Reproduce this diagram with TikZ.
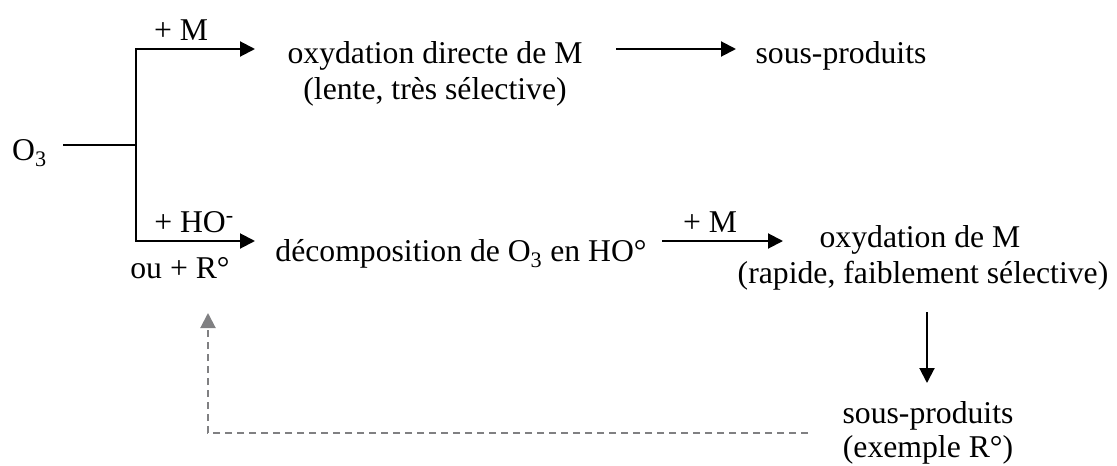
\documentclass[tikz,border=0pt]{standalone}
\usepackage{fontspec}
\setmainfont{Liberation Serif}
\usetikzlibrary{arrows.meta}
\definecolor{fbgray}{RGB}{128,128,130}
\begin{document}
\begin{tikzpicture}[x=1pt,y=-1pt,
  txt/.style={inner sep=0pt, anchor=base, font=\fontsize{31.7}{36}\selectfont},
  ln/.style={line width=2pt, line join=miter},
  arr/.style={line width=2pt, line join=miter, -{Triangle[length=15pt,width=15pt]}},
  fb/.style={line width=2pt, draw=fbgray, dash pattern=on 7pt off 5pt, -{Triangle[length=15pt,width=15pt]}}]
\useasboundingbox (0,0) rectangle (1117,466);

% text nodes
\node[txt, anchor=base west] (o3) at (12,160) {O\textsubscript{3}};
\node[txt] (lblM1) at (181,40) {+ M};
\node[txt] (odd1) at (435,63) {oxydation directe de M};
\node[txt] (odd2) at (435,99) {(lente, très sélective)};
\node[txt] (sp1) at (841,63) {sous-produits};
\node[txt] (lblHO) at (194,232) {+ HO\textsuperscript{-}};
\node[txt] (lblR) at (180,278) {ou + R°};
\node[txt] (dec) at (461,261) {décomposition de O\textsubscript{3} en HO°};
\node[txt] (lblM2) at (710,232) {+ M};
\node[txt] (om1) at (920,247) {oxydation de M};
\node[txt] (om2) at (923,283) {(rapide, faiblement sélective)};
\node[txt] (sp2) at (928,423) {sous-produits};
\node[txt] (ex) at (928,457) {(exemple R°)};

% connector ends
\coordinate (o3r) at (63,145);
\coordinate (j) at (136,145);
\coordinate (a1) at (255,49);
\coordinate (a2) at (255,241);
\coordinate (s1) at (616,49);
\coordinate (e1) at (736,49);
\coordinate (s2) at (662,241);
\coordinate (e2) at (783,241);
\coordinate (s3) at (927,312);
\coordinate (e3) at (927,383);
\coordinate (fs) at (808,433);
\coordinate (fe) at (208,313);

% connectors
\draw[ln] (o3r) -- (j);
\draw[arr] (j) |- (a1);
\draw[arr] (j) |- (a2);
\draw[arr] (s1) -- (e1);
\draw[arr] (s2) -- (e2);
\draw[arr] (s3) -- (e3);
\draw[fb] (fs) -| (fe);
\end{tikzpicture}
\end{document}
